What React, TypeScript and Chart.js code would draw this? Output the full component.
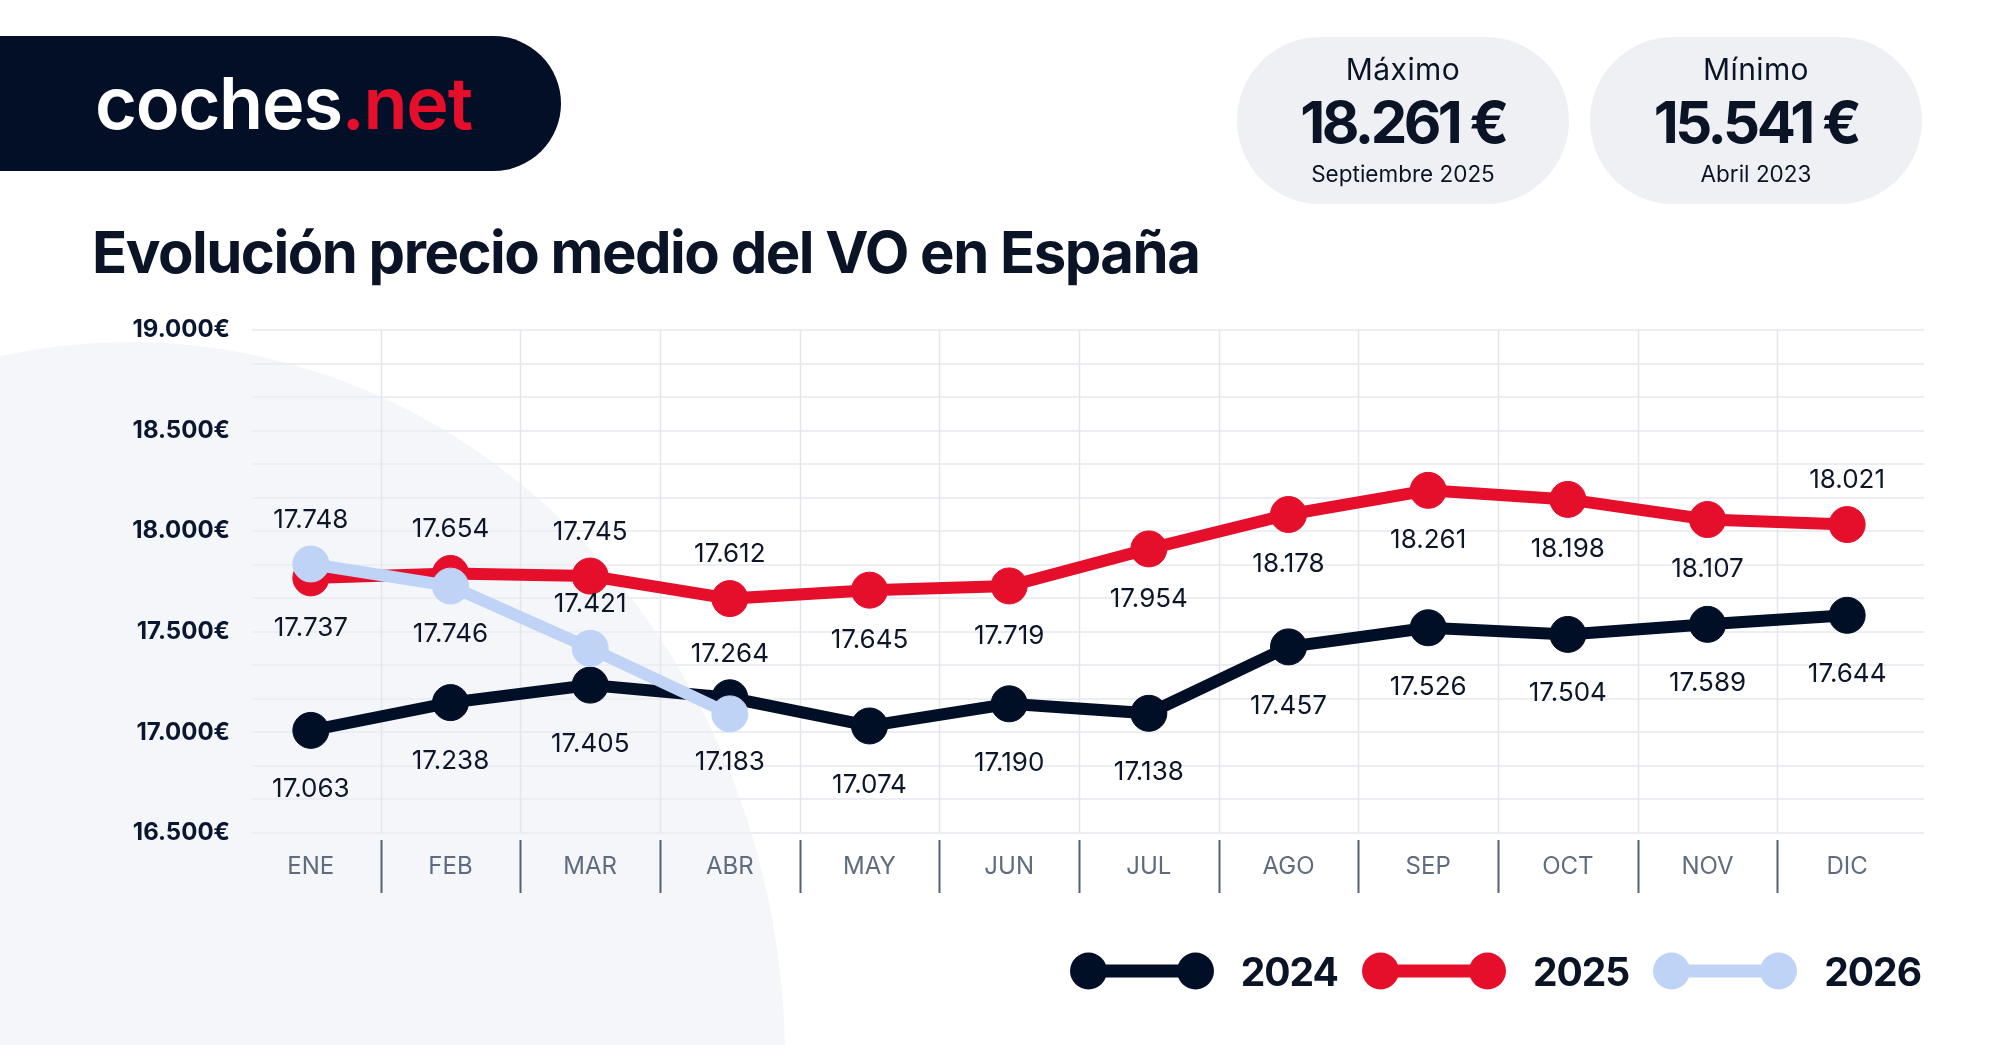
import React, { useEffect, useRef } from 'react';
import { Chart, registerables } from 'chart.js';

Chart.register(...registerables);

// ---------- data ----------
const months = ['ENE', 'FEB', 'MAR', 'ABR', 'MAY', 'JUN', 'JUL', 'AGO', 'SEP', 'OCT', 'NOV', 'DIC'];

// positions of the points as drawn in the reference
const series2024 = [17010, 17148, 17235, 17172, 17032, 17142, 17095, 17425, 17520, 17487, 17537, 17582];
const series2025 = [17768, 17790, 17777, 17665, 17707, 17728, 17912, 18083, 18203, 18158, 18058, 18033];
const series2026 = [17837, 17727, 17418, 17092];

// values printed next to the points
const labels2024 = [17063, 17238, 17405, 17264, 17074, 17190, 17138, 17457, 17526, 17504, 17589, 17644];
const labels2025 = [17737, 17654, 17745, 17612, 17645, 17719, 17954, 18178, 18261, 18198, 18107, 18021];
const labels2026 = [17748, 17746, 17421, 17183];

// which side of the point each printed value sits on (a = above, b = below)
const side2024 = ['b', 'b', 'b', 'a', 'b', 'b', 'b', 'b', 'b', 'b', 'b', 'b'];
const side2025 = ['b', 'a', 'a', 'a', 'b', 'b', 'b', 'b', 'b', 'b', 'b', 'a'];
const side2026 = ['a', 'b', 'a', 'b'];

const yTickValues = [16500, 17000, 17500, 18000, 18500, 19000];
const yMin = 16500;
const yMax = 19000;
const gridDivisions = 15;

const seriesNames = ['2024', '2025', '2026'];

const NAVY = '#000f26';
const RED = '#e50f2c';
const BLUE = '#bfd3f6';
const seriesColors = [NAVY, RED, BLUE];

const fmt = (v: number) => {
  const th = Math.floor(v / 1000);
  const rest = String(Math.round(v % 1000)).padStart(3, '0');
  return `${th}.${rest}`;
};

const decorPlugin = {
  id: 'decor',
  beforeDatasetsDraw(chart: any) {
    const { ctx, chartArea, scales } = chart;
    const y = scales.y;
    const x = scales.x;
    ctx.save();
    // horizontal grid
    ctx.strokeStyle = '#eceef3';
    ctx.lineWidth = 2;
    for (let i = 0; i <= gridDivisions; i++) {
      const v = yMin + ((yMax - yMin) * i) / gridDivisions;
      const py = Math.round(y.getPixelForValue(v));
      ctx.beginPath();
      ctx.moveTo(chartArea.left + 11, py);
      ctx.lineTo(chartArea.right + 7, py);
      ctx.stroke();
    }
    // vertical grid + separators
    for (let i = 1; i < months.length; i++) {
      const px = Math.round((x.getPixelForValue(i - 1) + x.getPixelForValue(i)) / 2) + 0.5;
      ctx.strokeStyle = '#e3e5eb';
      ctx.lineWidth = 1.5;
      ctx.beginPath();
      ctx.moveTo(px, chartArea.top);
      ctx.lineTo(px, chartArea.bottom);
      ctx.stroke();
      ctx.strokeStyle = '#556173';
      ctx.lineWidth = 2;
      ctx.beginPath();
      ctx.moveTo(px, chartArea.bottom + 7);
      ctx.lineTo(px, chartArea.bottom + 60);
      ctx.stroke();
    }
    ctx.restore();
  },
  afterDatasetsDraw(chart: any) {
    const { ctx } = chart;
    ctx.save();
    ctx.font = '400 26px Inter';
    ctx.fillStyle = '#0d1628';
    ctx.textAlign = 'center';
    ctx.textBaseline = 'middle';
    chart.data.datasets.forEach((ds: any, di: number) => {
      const meta = chart.getDatasetMeta(di);
      meta.data.forEach((pt: any, i: number) => {
        const up = ds.labelSides[i] === 'a';
        const off = up ? -ds.labelAbove : ds.labelBelow;
        ctx.fillText(fmt(ds.valueLabels[i]), pt.x, pt.y + off);
      });
    });
    ctx.restore();
  },
};

function ChartCanvas() {
  const ref = useRef<HTMLCanvasElement | null>(null);
  useEffect(() => {
    if (!ref.current) return;
    const mk = (idx: number, data: number[], vals: number[], sides: string[], below: number) => ({
      label: seriesNames[idx],
      data,
      borderColor: seriesColors[idx],
      backgroundColor: seriesColors[idx],
      borderWidth: 12,
      pointRadius: 18,
      pointBorderWidth: 1,
      pointBorderColor: seriesColors[idx],
      pointBackgroundColor: seriesColors[idx],
      tension: 0,
      fill: false,
      order: 3 - idx,
      valueLabels: vals,
      labelSides: sides,
      labelAbove: 44,
      labelBelow: below,
    });
    const chart = new Chart(ref.current, {
      type: 'line',
      data: {
        labels: months,
        datasets: [
          mk(0, series2024, labels2024, side2024, 59),
          mk(1, series2025, labels2025, side2025, 50),
          mk(2, series2026, labels2026, side2026, 48),
        ] as any,
      },
      options: {
        animation: false,
        responsive: false,
        devicePixelRatio: 1,
        events: [],
        layout: { padding: { left: 0, top: 330, right: 83, bottom: 0 } },
        plugins: { legend: { display: false }, tooltip: { enabled: false } },
        scales: {
          x: {
            type: 'category',
            offset: true,
            grid: { display: false, drawTicks: false },
            border: { display: false },
            ticks: {
              padding: 19,
              color: '#5f6b7e',
              font: { family: 'Inter', size: 24, weight: 400 as any },
              autoSkip: false,
              maxRotation: 0,
            },
            afterFit: (s: any) => {
              s.height = 212;
            },
          },
          y: {
            min: yMin,
            max: yMax,
            grid: { display: false, drawTicks: false },
            border: { display: false },
            afterBuildTicks: (s: any) => {
              s.ticks = yTickValues.map((v) => ({ value: v }));
            },
            ticks: {
              autoSkip: false,
              padding: 11,
              color: '#0b1730',
              font: { family: 'Inter', size: 24, weight: 700 as any },
              callback: (v: any) => fmt(Number(v)) + '€',
            },
            afterFit: (s: any) => {
              s.width = 241;
            },
          },
        },
      } as any,
      plugins: [decorPlugin],
    });
    return () => chart.destroy();
  }, []);
  return <canvas ref={ref} width={2000} height={1045} style={{ position: 'absolute', left: 0, top: 0 }} />;
}

function Card({ left, title, value, sub }: { left: number; title: string; value: string; sub: string }) {
  const line: React.CSSProperties = {
    position: 'absolute',
    left: 0,
    width: '100%',
    textAlign: 'center',
    lineHeight: 1,
    whiteSpace: 'nowrap',
  };
  return (
    <div
      style={{
        position: 'absolute',
        left,
        top: 37,
        width: 332,
        height: 167,
        borderRadius: 84,
        background: '#eef0f4',
        color: '#0b1426',
      }}
    >
      <div style={{ ...line, top: 17, fontSize: 30, fontWeight: 400, letterSpacing: 0.4 }}>{title}</div>
      <div style={{ ...line, top: 56, fontSize: 58, fontWeight: 700, letterSpacing: -3.5 }}>{value}</div>
      <div style={{ ...line, top: 126, fontSize: 22.5, fontWeight: 400 }}>{sub}</div>
    </div>
  );
}

function LegendItem({ idx, last }: { idx: number; last: boolean }) {
  const c = seriesColors[idx];
  return (
    <div style={{ display: 'flex', alignItems: 'center', marginRight: last ? 0 : 24 }}>
      <svg width={144} height={40} style={{ display: 'block' }}>
        <line x1={18} y1={20} x2={126} y2={20} stroke={c} strokeWidth={13} />
        <circle cx={18.5} cy={20} r={18.5} fill={c} />
        <circle cx={125.5} cy={20} r={18.5} fill={c} />
      </svg>
      <span style={{ marginLeft: 27, fontSize: 39, fontWeight: 700, letterSpacing: -1, lineHeight: 1, color: '#0b1426' }}>
        {seriesNames[idx]}
      </span>
    </div>
  );
}

export default function App() {
  useEffect(() => {
    document.body.style.margin = '0';
  }, []);
  return (
    <div
      style={{
        position: 'absolute',
        left: 0,
        top: 0,
        width: 2000,
        height: 1045,
        overflow: 'hidden',
        background: '#ffffff',
        fontFamily: 'Inter, sans-serif',
        color: '#0b1426',
      }}
    >
      {/* background shape */}
      <div
        style={{
          position: 'absolute',
          left: -525,
          top: 342,
          width: 1310,
          height: 1436,
          borderRadius: '50%',
          background: '#f5f6f9',
        }}
      />
      <ChartCanvas />
      {/* logo */}
      <div
        style={{
          position: 'absolute',
          left: 0,
          top: 36,
          width: 561,
          height: 135,
          background: '#020f27',
          borderRadius: '0 68px 68px 0',
        }}
      />
      <div
        style={{
          position: 'absolute',
          left: 95,
          top: 67,
          fontSize: 72,
          fontWeight: 600,
          lineHeight: 1,
          letterSpacing: -1.2,
          color: '#ffffff',
          whiteSpace: 'nowrap',
        }}
      >
        coches<span style={{ color: RED }}>.net</span>
      </div>
      <Card left={1237} title="Máximo" value="18.261 €" sub="Septiembre 2025" />
      <Card left={1590} title="Mínimo" value="15.541 €" sub="Abril 2023" />
      <div
        style={{
          position: 'absolute',
          left: 92,
          top: 223,
          fontSize: 58,
          fontWeight: 700,
          lineHeight: 1,
          letterSpacing: -1.5,
          whiteSpace: 'nowrap',
          color: '#0b1426',
        }}
      >
        Evolución precio medio del VO en España
      </div>
      <div
        style={{
          position: 'absolute',
          right: 79,
          top: 951,
          height: 40,
          display: 'flex',
          alignItems: 'center',
        }}
      >
        {[0, 1, 2].map((i) => (
          <LegendItem key={i} idx={i} last={i === 2} />
        ))}
      </div>
    </div>
  );
}
